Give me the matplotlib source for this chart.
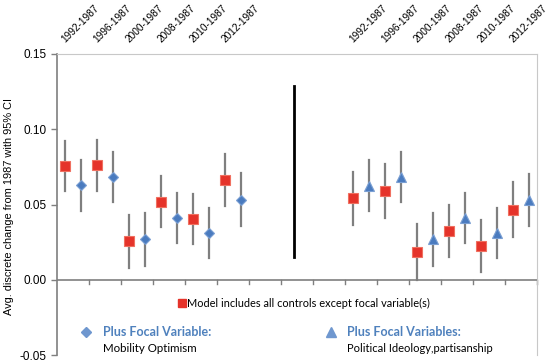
import matplotlib.pyplot as plt

# category slots: 6 on the left, 3 empty, 6 on the right
labels = ['1992-1987', '1996-1987', '2000-1987', '2008-1987', '2010-1987', '2012-1987']
left_slots = [0, 1, 2, 3, 4, 5]
right_slots = [9, 10, 11, 12, 13, 14]
n_slots = 15

# left panel: base model (red) vs plus mobility optimism (blue diamond)
left_base = [0.0757, 0.0762, 0.0256, 0.0519, 0.0404, 0.0662]
left_base_lo = [0.0587, 0.0592, 0.0079, 0.0349, 0.0238, 0.0488]
left_base_hi = [0.0923, 0.0930, 0.0430, 0.0687, 0.0572, 0.0837]
left_focal = [0.0627, 0.0684, 0.0272, 0.0411, 0.0311, 0.0532]
left_focal_lo = [0.0459, 0.0514, 0.0093, 0.0243, 0.0148, 0.0360]
left_focal_hi = [0.0795, 0.0850, 0.0446, 0.0578, 0.0477, 0.0709]

# right panel: base model (red) vs plus ideology/partisanship (blue triangle)
right_base = [0.0543, 0.0589, 0.0188, 0.0327, 0.0223, 0.0466]
right_base_lo = [0.0364, 0.0411, 0.0000, 0.0150, 0.0049, 0.0283]
right_base_hi = [0.0717, 0.0766, 0.0371, 0.0499, 0.0397, 0.0649]
right_focal = [0.0625, 0.0680, 0.0270, 0.0410, 0.0308, 0.0533]
right_focal_lo = [0.0459, 0.0514, 0.0093, 0.0243, 0.0148, 0.0360]
right_focal_hi = [0.0795, 0.0850, 0.0444, 0.0576, 0.0475, 0.0706]

# separator line between the two panels
sep_x = 7.4
sep_y = [0.0153, 0.129]

RED = '#e5332a'
BLUE = '#4a7bbf'
GREY = '#7f7f7f'
LEG_BLUE = '#4f81bd'

fig = plt.figure(figsize=(5.53, 3.62), dpi=100)
ax = fig.add_axes([0.103, 0.019, 0.868, 0.832])


def draw(slots, vals, lo, hi, offset, marker, ms, color, edge):
    xs = [s + offset for s in slots]
    for x, l, h in zip(xs, lo, hi):
        ax.plot([x, x], [l, h], color=GREY, lw=1.6, zorder=2)
    ax.plot(xs, vals, linestyle='none', marker=marker, markersize=ms,
            markerfacecolor=color, markeredgecolor=edge, markeredgewidth=0.8, zorder=3)


draw(left_slots, left_base, left_base_lo, left_base_hi, 0.25, 's', 6.5, RED, '#f07060')
draw(left_slots, left_focal, left_focal_lo, left_focal_hi, 0.75, 'D', 5.5, BLUE, '#7a9fd3')
draw(right_slots, right_base, right_base_lo, right_base_hi, 0.25, 's', 6.5, RED, '#f07060')
draw(right_slots, right_focal, right_focal_lo, right_focal_hi, 0.75, '^', 7.5, BLUE, '#7a9fd3')

ax.plot([sep_x, sep_x], sep_y, color='black', lw=2, zorder=3)

# zero line with category ticks
ax.axhline(0, color=GREY, lw=1.2, zorder=1)
for k in range(1, n_slots + 1):
    ax.plot([k, k], [0, -0.0028], color=GREY, lw=1, zorder=1, clip_on=False)

ax.set_xlim(0, n_slots)
ax.set_ylim(-0.05, 0.15)
ax.set_xticks([])
ax.set_yticks([-0.05, 0.0, 0.05, 0.10, 0.15])
ax.set_yticklabels(['-0.05', '0.00', '0.05', '0.10', '0.15'],
                   fontsize=8.5, family='Liberation Sans')
ax.tick_params(axis='y', length=4, color=GREY, width=1)
ax.spines['left'].set_color(GREY)
ax.spines['left'].set_linewidth(1.2)
ax.spines['bottom'].set_visible(False)
ax.spines['top'].set_color('#c8c8c8')
ax.spines['right'].set_color('#c8c8c8')

fig.text(0.017, 0.43, 'Avg. discrete change from 1987 with 95% CI', rotation=90,
         ha='center', va='center', fontsize=7.9, family='Liberation Sans')

# rotated period labels along the top
for slots in (left_slots, right_slots):
    for s, lab in zip(slots, labels):
        ax.text(s + 0.3, 0.1565, lab, rotation=45, rotation_mode='anchor',
                ha='left', va='bottom', fontsize=7.3, family='Liberation Sans')

# legend drawn inside the plot area
leg_font = 'Lato'
ax.plot([3.9], [-0.0155], marker='s', markersize=6, color=RED, linestyle='none')
ax.text(4.07, -0.0155, 'Model includes all controls except focal variable(s)',
        va='center', ha='left', fontsize=7.9, family=leg_font)
ax.plot([0.9], [-0.0347], marker='D', markersize=5.5, color='#6f97cf', linestyle='none')
ax.text(1.43, -0.0347, 'Plus Focal Variable:', va='center', ha='left',
        fontsize=9, family=leg_font, color=LEG_BLUE, fontweight='bold')
ax.text(1.43, -0.0453, 'Mobility Optimism', va='center', ha='left',
        fontsize=8.3, family=leg_font)
ax.plot([8.56], [-0.0347], marker='^', markersize=7, color='#6f97cf', linestyle='none')
ax.text(9.06, -0.0347, 'Plus Focal Variables:', va='center', ha='left',
        fontsize=9, family=leg_font, color=LEG_BLUE, fontweight='bold')
ax.text(9.06, -0.0453, 'Political Ideology,partisanship', va='center', ha='left',
        fontsize=8, family=leg_font)

fig.savefig('out.png', dpi=100)
